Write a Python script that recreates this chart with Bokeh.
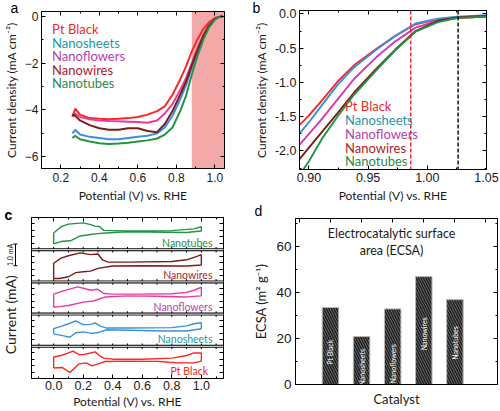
import math
from bokeh.plotting import figure
from bokeh.models import (Range1d, LinearAxis, FixedTicker, Span, BoxAnnotation, Label,
                          NumeralTickFormatter, GridBox)
from bokeh.core.properties import value
from bokeh.embed import file_html
from bokeh.resources import INLINE

# ---------------- data ----------------
catalysts = ["Pt Black", "Nanosheets", "Nanoflowers", "Nanowires", "Nanotubes"]

# panel a: ORR polarisation curves (V vs RHE, mA cm-2)
lsv_potential = [0.26, 0.275, 0.30, 0.35, 0.40, 0.45, 0.50, 0.55, 0.60, 0.65, 0.70,
                 0.74, 0.78, 0.82, 0.85, 0.88, 0.91, 0.94, 0.97, 1.00, 1.02, 1.04]
lsv_pt_black = [-4.30, -3.95, -4.20, -4.35, -4.38, -4.40, -4.38, -4.35, -4.30, -4.20, -4.05,
                -3.85, -3.35, -2.70, -2.15, -1.50, -0.98, -0.55, -0.25, -0.08, -0.03, 0.00]
lsv_nanosheets = [-5.00, -4.85, -5.05, -5.15, -5.20, -5.25, -5.25, -5.20, -5.15, -5.10, -5.00,
                  -4.75, -4.25, -3.55, -2.95, -2.20, -1.50, -0.85, -0.40, -0.12, -0.04, 0.00]
lsv_nanoflowers = [-4.30, -4.15, -4.30, -4.40, -4.45, -4.47, -4.48, -4.50, -4.52, -4.55, -4.45,
                   -4.15, -3.75, -3.15, -2.65, -2.00, -1.35, -0.80, -0.38, -0.12, -0.04, 0.00]
lsv_nanowires = [-4.20, -4.25, -4.45, -4.65, -4.78, -4.85, -4.85, -4.78, -4.78, -4.90, -4.95,
                 -4.60, -4.05, -3.35, -2.80, -2.10, -1.45, -0.85, -0.40, -0.12, -0.04, 0.00]
lsv_nanotubes = [-5.20, -5.10, -5.25, -5.35, -5.42, -5.45, -5.43, -5.40, -5.35, -5.30, -5.22,
                 -5.05, -4.75, -4.05, -3.40, -2.50, -1.70, -1.00, -0.48, -0.15, -0.05, 0.00]
shaded_from = 0.88
a_xticks = [0.2, 0.4, 0.6, 0.8, 1.0]
a_xminor = [0.1, 0.3, 0.5, 0.7, 0.9]
a_yticks = [-6, -4, -2, 0]
a_yminor = [-5, -3, -1]

# panel b: zoom of the onset region
zoom_potential = [0.89, 0.90, 0.911, 0.924, 0.938, 0.957, 0.973, 0.99, 1.009, 1.025, 1.05]
zoom_pt_black = [-1.66, -1.48, -1.26, -0.99, -0.75, -0.51, -0.32, -0.15, -0.08, -0.055, -0.04]
zoom_nanosheets = [-1.79, -1.58, -1.33, -1.04, -0.78, -0.52, -0.32, -0.14, -0.07, -0.04, -0.02]
zoom_nanoflowers = [-1.95, -1.75, -1.53, -1.25, -0.95, -0.63, -0.40, -0.20, -0.10, -0.06, -0.04]
zoom_nanowires = [-2.16, -1.95, -1.72, -1.45, -1.15, -0.80, -0.52, -0.25, -0.10, -0.05, -0.03]
zoom_nanotubes = [-2.40, -2.15, -1.82, -1.50, -1.18, -0.82, -0.53, -0.26, -0.12, -0.06, -0.04]
onset_pt_black = 0.986
onset_nanotubes = 1.026
b_xticks = [0.90, 0.95, 1.00, 1.05]
b_xminor = [0.925, 0.975, 1.025]
b_yticks = [-2.0, -1.5, -1.0, -0.5, 0.0]
b_yminor = [-2.25, -1.75, -1.25, -0.75, -0.25]

# panel c: cyclic voltammograms (V, mA) - anodic then cathodic branch
cv_pt_black_up_v = [0.0, 0.0, 0.05, 0.10, 0.13, 0.17, 0.20, 0.25, 0.28, 0.31, 0.34, 0.40, 0.60, 0.80, 0.90, 0.95, 1.0]
cv_pt_black_up_i = [-0.26, 0.25, 0.32, 0.44, 0.53, 0.37, 0.36, 0.44, 0.49, 0.32, 0.20, 0.15, 0.15, 0.20, 0.32, 0.44, 0.44]
cv_pt_black_dn_v = [1.0, 0.95, 0.85, 0.78, 0.70, 0.50, 0.35, 0.30, 0.26, 0.22, 0.17, 0.11, 0.06, 0.0]
cv_pt_black_dn_i = [0.06, -0.02, -0.02, 0.01, 0.05, 0.06, 0.04, -0.07, -0.16, -0.02, -0.07, -0.47, -0.24, -0.26]

cv_nanosheets_up_v = [0.0, 0.0, 0.05, 0.10, 0.15, 0.20, 0.25, 0.28, 0.32, 0.36, 0.50, 0.80, 0.90, 0.95, 1.0]
cv_nanosheets_up_i = [-0.17, 0.07, 0.18, 0.30, 0.43, 0.26, 0.27, 0.34, 0.18, 0.10, 0.10, 0.12, 0.20, 0.30, 0.35]
cv_nanosheets_dn_v = [1.0, 0.90, 0.75, 0.50, 0.36, 0.30, 0.26, 0.20, 0.15, 0.11, 0.06, 0.0]
cv_nanosheets_dn_i = [0.07, -0.04, -0.04, 0.0, 0.02, -0.11, -0.15, -0.08, -0.12, -0.33, -0.25, -0.17]

cv_nanoflowers_up_v = [0.0, 0.0, 0.05, 0.10, 0.165, 0.22, 0.25, 0.297, 0.34, 0.40, 0.60, 0.80, 0.90, 0.95, 1.0]
cv_nanoflowers_up_i = [-0.43, 0.18, 0.30, 0.40, 0.52, 0.42, 0.36, 0.41, 0.21, 0.18, 0.18, 0.20, 0.26, 0.36, 0.50]
cv_nanoflowers_dn_v = [1.0, 0.90, 0.70, 0.50, 0.35, 0.27, 0.20, 0.10, 0.04, 0.0]
cv_nanoflowers_dn_i = [0.10, 0.05, 0.08, 0.10, 0.05, -0.14, -0.19, -0.35, -0.40, -0.43]

cv_nanowires_up_v = [0.0, 0.0, 0.05, 0.10, 0.18, 0.25, 0.30, 0.33, 0.37, 0.50, 0.80, 0.90, 0.97, 1.0]
cv_nanowires_up_i = [-0.59, 0.12, 0.36, 0.47, 0.60, 0.52, 0.55, 0.28, 0.17, 0.17, 0.20, 0.28, 0.44, 0.52]
cv_nanowires_dn_v = [1.0, 0.90, 0.60, 0.40, 0.30, 0.25, 0.20, 0.15, 0.10, 0.04, 0.0]
cv_nanowires_dn_i = [0.04, -0.01, 0.0, -0.01, -0.12, -0.25, -0.28, -0.32, -0.51, -0.59, -0.59]

cv_nanotubes_up_v = [0.0, 0.0, 0.05, 0.10, 0.20, 0.25, 0.28, 0.31, 0.34, 0.50, 0.80, 0.95, 1.0]
cv_nanotubes_up_i = [-0.48, 0.03, 0.32, 0.44, 0.50, 0.42, 0.35, 0.33, 0.15, 0.12, 0.14, 0.22, 0.32]
cv_nanotubes_dn_v = [1.0, 0.90, 0.50, 0.35, 0.30, 0.25, 0.18, 0.12, 0.05, 0.0]
cv_nanotubes_dn_i = [0.12, 0.05, 0.08, 0.03, 0.0, -0.04, -0.11, -0.32, -0.37, -0.48]

cv_box_height = 1.5      # mA per stacked box
scale_bar_ma = 1.0
c_xticks = [0.0, 0.2, 0.4, 0.6, 0.8, 1.0]
c_xminor = [-0.1, 0.1, 0.3, 0.5, 0.7, 0.9, 1.1]

# panel d: ECSA (m2 g-1)
ecsa = [33.4, 20.8, 32.8, 46.8, 36.8]
bar_label_y = [14, 7.5, 9, 22, 18]
d_yticks = [0, 20, 40, 60]
d_yminor = [10, 30, 50, 70]

# ---------------- style ----------------
NUM = "Liberation Sans"
TXT = "Lato"
INK = "#1a1a1a"
line_colors = ["#ff2626", "#3c8fda", "#ec3a9c", "#7d1c1c", "#239445"]
zoom_line_colors = ["#ff2626", "#3c8fda", "#d43ab6", "#7d1c1c", "#239445"]
text_colors = ["#ee2a24", "#1f95a8", "#b43fb0", "#b0202a", "#2a8a4a"]


def make_fig(w, h, xr, yr, left, right, top, bottom, **kw):
    p = figure(width=w, height=h, x_range=xr if not isinstance(xr, tuple) else Range1d(*xr),
               y_range=yr if not isinstance(yr, tuple) else Range1d(*yr),
               output_backend="svg", toolbar_location=None, tools="",
               min_border_left=left, min_border_right=right,
               min_border_top=top, min_border_bottom=bottom, **kw)
    p.grid.visible = False
    try:
        p.frame_align = False
    except Exception:
        pass
    return p


def style_axis(ax, tick_size, label_size, tick_standoff=3, label_standoff=3):
    ax.major_tick_in = 4
    ax.major_tick_out = 0
    ax.minor_tick_in = 2
    ax.minor_tick_out = 0
    ax.major_label_text_font = NUM
    ax.major_label_text_font_size = tick_size
    ax.major_label_text_color = INK
    ax.axis_label_text_font = TXT
    ax.axis_label_text_font_size = label_size
    ax.axis_label_text_font_style = "normal"
    ax.axis_label_text_color = INK
    ax.major_label_standoff = tick_standoff
    ax.axis_label_standoff = label_standoff
    ax.axis_line_color = "black"


def hide_labels(ax):
    ax.major_label_text_font_size = "0px"
    ax.major_label_text_color = None
    ax.major_label_standoff = 0


def mirror_axis(p, ticks, minor, side):
    ax = LinearAxis(ticker=FixedTicker(ticks=ticks, minor_ticks=minor),
                    major_tick_in=4, major_tick_out=0, minor_tick_in=2, minor_tick_out=0,
                    axis_line_color="black")
    hide_labels(ax)
    p.add_layout(ax, side)


def framed(p):
    p.outline_line_color = "black"
    p.outline_line_width = 1
    p.border_fill_color = "white"


# ---------------- panel a ----------------
pa = make_fig(250, 205, (0.1, 1.05), (-6.5, 0.2), 32, 26, 11, 32)
framed(pa)
pa.add_layout(BoxAnnotation(left=shaded_from, fill_color="#f4a9a9", fill_alpha=1.0,
                            line_color=None, level="underlay"))
lsv_series = [lsv_pt_black, lsv_nanosheets, lsv_nanoflowers, lsv_nanowires, lsv_nanotubes]
for ys, c in zip(lsv_series, line_colors):
    pa.line(lsv_potential, ys, line_color=c, line_width=2)
pa.xaxis.ticker = FixedTicker(ticks=a_xticks, minor_ticks=a_xminor)
pa.xaxis.formatter = NumeralTickFormatter(format="0.0")
pa.yaxis.ticker = FixedTicker(ticks=a_yticks, minor_ticks=a_yminor)
pa.xaxis.axis_label = "Potential (V) vs. RHE"
pa.yaxis.axis_label = "Current density (mA cm\u207b\u00b2)"
for ax in pa.axis:
    style_axis(ax, "12px", "12px", 3, 3)
pa.xaxis.major_label_standoff = 4
mirror_axis(pa, a_xticks, a_xminor, "above")
mirror_axis(pa, a_yticks, a_yminor, "right")
for k, (name, tc) in enumerate(zip(catalysts, text_colors)):
    pa.add_layout(Label(x=0.155, y=-0.55 - 0.58 * k, text=name, text_font=TXT,
                        text_font_size="13px", text_color=tc, text_baseline="middle"))

# ---------------- panel b ----------------
pb = make_fig(250, 205, (0.892, 1.05), (-2.27, 0.05), 43, 14, 10, 34)
framed(pb)
zoom_series = [zoom_pt_black, zoom_nanosheets, zoom_nanoflowers, zoom_nanowires, zoom_nanotubes]
for ys, c in zip(zoom_series, zoom_line_colors):
    pb.line(zoom_potential, ys, line_color=c, line_width=1.9)
pb.add_layout(Span(location=onset_pt_black, dimension="height", line_color="#e8202a",
                   line_dash="4 2", line_width=1.4))
pb.add_layout(Span(location=onset_nanotubes, dimension="height", line_color="black",
                   line_dash="4 2", line_width=1.4))
pb.xaxis.ticker = FixedTicker(ticks=b_xticks, minor_ticks=b_xminor)
pb.xaxis.formatter = NumeralTickFormatter(format="0.00")
pb.yaxis.ticker = FixedTicker(ticks=b_yticks, minor_ticks=b_yminor)
pb.yaxis.formatter = NumeralTickFormatter(format="0.0")
pb.xaxis.axis_label = "Potential (V) vs. RHE"
pb.yaxis.axis_label = "Current density (mA cm\u207b\u00b2)"
for ax in pb.axis:
    style_axis(ax, "12.5px", "12px", 3, 3)
mirror_axis(pb, b_xticks, b_xminor, "above")
mirror_axis(pb, b_yticks, b_yminor, "right")
for k, (name, tc) in enumerate(zip(catalysts, text_colors)):
    pb.add_layout(Label(x=0.9305, y=-1.35 - 0.2 * k, text=name, text_font=TXT,
                        text_font_size="13px", text_color=tc, text_baseline="middle"))

# ---------------- panel c ----------------
C_TOP, C_BOTTOM = 12, 32
pc = make_fig(250, 206, (-0.15, 1.15), (0, 5 * cv_box_height), 31, 27, C_TOP, C_BOTTOM)
framed(pc)
cv_data = [
    (cv_pt_black_up_v, cv_pt_black_up_i, cv_pt_black_dn_v, cv_pt_black_dn_i),
    (cv_nanosheets_up_v, cv_nanosheets_up_i, cv_nanosheets_dn_v, cv_nanosheets_dn_i),
    (cv_nanoflowers_up_v, cv_nanoflowers_up_i, cv_nanoflowers_dn_v, cv_nanoflowers_dn_i),
    (cv_nanowires_up_v, cv_nanowires_up_i, cv_nanowires_dn_v, cv_nanowires_dn_i),
    (cv_nanotubes_up_v, cv_nanotubes_up_i, cv_nanotubes_dn_v, cv_nanotubes_dn_i),
]
c_all_x = sorted(c_xticks + c_xminor)
for k, ((uv, ui, dv, di), c, tc, name) in enumerate(zip(cv_data, line_colors, text_colors, catalysts)):
    off = cv_box_height * (k + 0.5)
    pc.line(uv + dv, [v + off for v in ui + di], line_color=c, line_width=1.4)
    pc.add_layout(Label(x=1.075 if k else 1.045, y=off - 0.42, text=name, text_font=TXT,
                        text_font_size="10.5px", text_color=tc, text_align="right",
                        text_baseline="middle"))
    if k > 0:
        edge = cv_box_height * k
        pc.add_layout(Span(location=edge, dimension="width", line_color="black", line_width=3))
        pc.add_layout(Span(location=edge, dimension="width", line_color="white", line_width=1))
        pc.segment(x0=c_all_x, y0=[edge - 0.13] * len(c_all_x), x1=c_all_x,
                   y1=[edge + 0.13] * len(c_all_x), line_color="black", line_width=1)
c_yticks = [cv_box_height * k + d for k in range(5) for d in (0.3, 0.6, 0.9, 1.2)]
pc.xaxis.ticker = FixedTicker(ticks=c_xticks, minor_ticks=c_xminor)
pc.xaxis.formatter = NumeralTickFormatter(format="0.0")
pc.yaxis.ticker = FixedTicker(ticks=c_yticks)
pc.xaxis.axis_label = "Potential (V) vs. RHE"
for ax in pc.axis:
    style_axis(ax, "12.5px", "12px", 2, 1)
hide_labels(pc.yaxis[0])
pc.yaxis.major_tick_in = 3
mirror_axis(pc, c_xticks, c_xminor, "above")
mirror_axis(pc, c_yticks, [], "right")

# overlay on panel c sharing its current axis: scale bar and y title
ovc = make_fig(250, 206, (0, 250), pc.y_range, 0, 0, C_TOP, C_BOTTOM,
               x_axis_type=None, y_axis_type=None, background_fill_color=None,
               border_fill_color=None, outline_line_color=None)
bar_y0 = 3.5 * cv_box_height + 0.02
ovc.segment(x0=[15], y0=[bar_y0], x1=[15], y1=[bar_y0 + scale_bar_ma], line_color="black", line_width=1)
ovc.segment(x0=[13, 13], y0=[bar_y0, bar_y0 + scale_bar_ma], x1=[17, 17],
            y1=[bar_y0, bar_y0 + scale_bar_ma], line_color="black", line_width=1)
ovc.text(x=[9], y=[bar_y0 + scale_bar_ma / 2], text=["1.0 mA"], angle=math.pi / 2,
         text_font=value(TXT), text_font_size="7px", text_align="center",
         text_baseline="middle", text_color=INK)
ovc.text(x=[10], y=[2.0 * cv_box_height], text=["Current (mA)"], angle=math.pi / 2,
         text_font=value(TXT), text_font_size="14px", text_align="center",
         text_baseline="middle", text_color=INK)

# ---------------- panel d ----------------
bar_pos = [1, 2, 3, 4, 5]
pd_ = make_fig(250, 206, (-0.124, 6.37), (0, 72), 43, 3, 13, 27)
framed(pd_)
pd_.vbar(x=bar_pos, top=ecsa, width=0.53, fill_color="#7c7c7c", line_color="#b8b8b8",
         line_width=1, hatch_pattern="\\", hatch_color="#1e1e1e", hatch_scale=5, hatch_weight=1.6)
pd_.text(x=bar_pos, y=bar_label_y, text=catalysts, angle=math.pi / 2, text_color="white",
         text_font=value(TXT), text_font_size="7px", text_align="center", text_baseline="middle")
pd_.yaxis.ticker = FixedTicker(ticks=d_yticks, minor_ticks=d_yminor)
pd_.xaxis.ticker = FixedTicker(ticks=[])
pd_.xaxis.axis_label = "Catalyst"
pd_.yaxis.axis_label = "ECSA (m\u00b2 g\u207b\u00b9)"
for ax in pd_.axis:
    style_axis(ax, "13.5px", "13px", 4, 4)
hide_labels(pd_.xaxis[0])
pd_.xaxis.axis_label_standoff = 6
mirror_axis(pd_, [0, 1, 2, 3, 4, 5, 6], [], "above")
mirror_axis(pd_, d_yticks, d_yminor, "right")
pd_.add_layout(Label(x=2.965, y=65.4, text="Electrocatalytic surface", text_font=TXT,
                     text_font_size="12.5px", text_align="center", text_baseline="middle",
                     text_color=INK))
pd_.add_layout(Label(x=2.965, y=58.2, text="area (ECSA)", text_font=TXT,
                     text_font_size="12.5px", text_align="center", text_baseline="middle",
                     text_color=INK))

# ---------------- panel letters (overlay over whole figure) ----------------
ov = make_fig(500, 411, (0, 500), (411, 0), 0, 0, 0, 0,
              x_axis_type=None, y_axis_type=None, background_fill_color=None,
              border_fill_color=None, outline_line_color=None)
ov.text(x=[14, 256, 258], y=[7, 7, 210], text=["a", "b", "d"], text_font=value(NUM),
        text_font_size="14px", text_align="center", text_baseline="middle", text_color="black")
ov.text(x=[8], y=[214], text=["c"], text_font=value(NUM), text_font_style="bold",
        text_font_size="14px", text_align="center", text_baseline="middle", text_color="black")

layout = GridBox(children=[(pa, 0, 0), (pb, 0, 1), (pc, 1, 0), (pd_, 1, 1),
                           (ovc, 1, 0), (ov, 0, 0, 2, 2)], spacing=0)
open("out.html", "w").write(file_html(layout, INLINE))
